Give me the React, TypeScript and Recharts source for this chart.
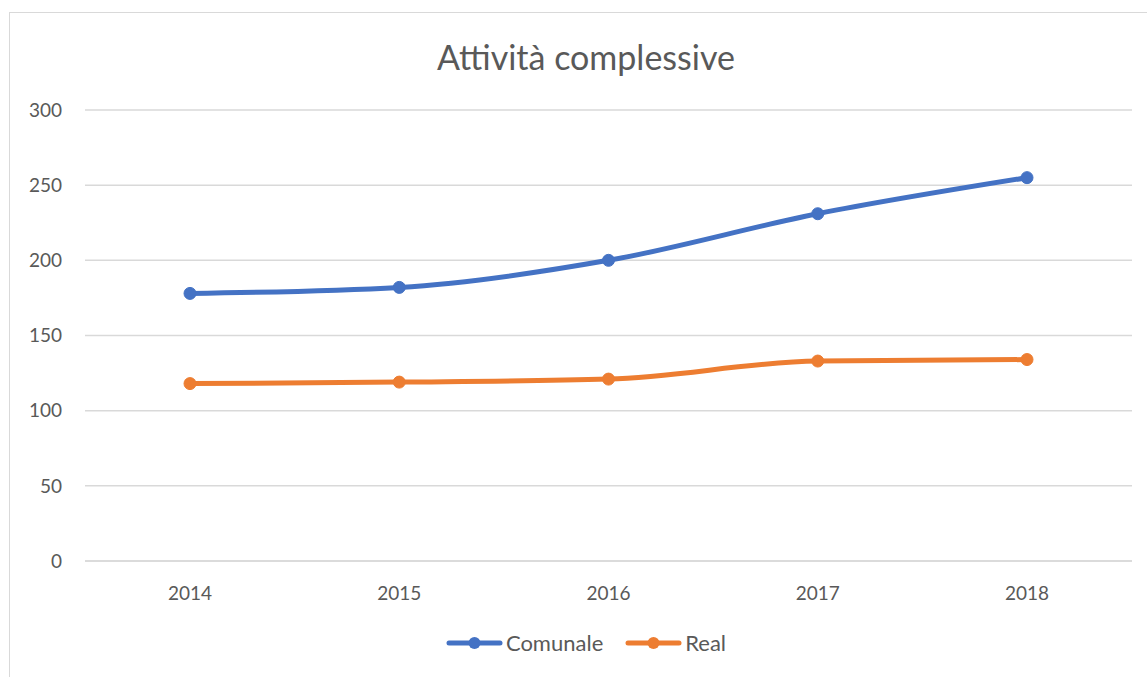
import { LineChart, Line, XAxis, YAxis, CartesianGrid, Legend } from "recharts";

// Activity counts per year, split by source
const years = ["2014", "2015", "2016", "2017", "2018"];
const comunale = [178, 182, 200, 231, 255];
const real = [118, 119, 121, 133, 134];
const yTicks = [0, 50, 100, 150, 200, 250, 300];

const BLUE = "#4472C4";
const ORANGE = "#ED7D31";
const TEXT = "#595959";
const FONT = "Lato, 'Open Sans', sans-serif";

const data = years.map((year, i) => ({
  year,
  Comunale: comunale[i],
  Real: real[i],
}));

// Legend with a line-and-dot marker before each series name
const renderLegend = ({ payload }: any) => (
  <div style={{ display: "flex", justifyContent: "center", gap: 22, fontFamily: FONT, fontSize: 22, color: TEXT }}>
    {(payload || []).map((entry: any) => (
      <div key={entry.value} style={{ display: "flex", alignItems: "center" }}>
        <svg width={57} height={14} style={{ marginRight: 3 }}>
          <line x1={3} y1={7} x2={54} y2={7} stroke={entry.color} strokeWidth={5} strokeLinecap="round" />
          <circle cx={28.5} cy={7} r={6} fill={entry.color} />
        </svg>
        <span>{entry.value}</span>
      </div>
    ))}
  </div>
);

export default function App() {
  return (
    <div
      style={{
        position: "absolute",
        left: 9,
        top: 12,
        width: 1138,
        height: 665,
        borderLeft: "1px solid #D9D9D9",
        borderTop: "1px solid #D9D9D9",
        background: "#fff",
        overflow: "hidden",
      }}
    >
      <div
        style={{
          position: "absolute",
          left: 0,
          width: 1152,
          top: 23,
          textAlign: "center",
          fontFamily: FONT,
          fontSize: 34,
          color: TEXT,
        }}
      >
        Attività complessive
      </div>
      <LineChart
        width={1137}
        height={664}
        data={data}
        margin={{ top: 97, right: 15, bottom: 0, left: 0 }}
      >
        <CartesianGrid vertical={false} stroke="#D9D9D9" strokeWidth={1.5} />
        <XAxis
          dataKey="year"
          padding={{ left: 105, right: 105 }}
          axisLine={{ stroke: "#D9D9D9", strokeWidth: 1.5 }}
          tickLine={false}
          tickMargin={20}
          height={116}
          tick={{ fill: TEXT, fontSize: 19, fontFamily: FONT }}
        />
        <YAxis
          domain={[0, 300]}
          ticks={yTicks}
          axisLine={false}
          tickLine={false}
          tickMargin={17}
          width={75}
          tick={{ fill: TEXT, fontSize: 19, fontFamily: FONT }}
        />
        <Legend
          verticalAlign="middle"
          layout="horizontal"
          content={renderLegend}
          wrapperStyle={{ top: 616, left: 0, width: 1152 }}
        />
        <Line
          type="monotone"
          dataKey="Comunale"
          stroke={BLUE}
          strokeWidth={5}
          dot={{ r: 6, fill: BLUE, stroke: BLUE, strokeWidth: 1 }}
          isAnimationActive={false}
        />
        <Line
          type="monotone"
          dataKey="Real"
          stroke={ORANGE}
          strokeWidth={5}
          dot={{ r: 6, fill: ORANGE, stroke: ORANGE, strokeWidth: 1 }}
          isAnimationActive={false}
        />
      </LineChart>
    </div>
  );
}
